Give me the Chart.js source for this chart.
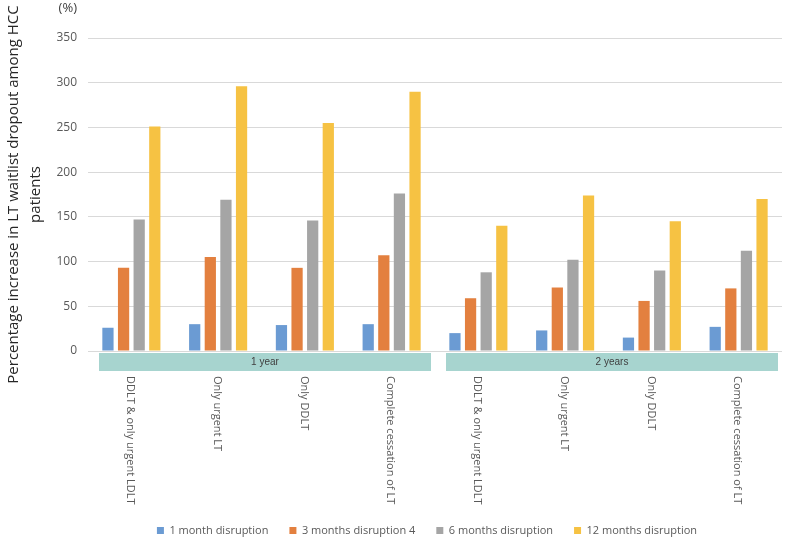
<!DOCTYPE html>
<html>
<head>
<meta charset="utf-8">
<script src="https://cdn.jsdelivr.net/npm/chart.js@4"></script>
<style>
  html, body { margin: 0; padding: 0; background: #fff; }
  #wrap { width: 785px; height: 540px; }
</style>
</head>
<body>
<div id="wrap"><canvas id="chart" width="785" height="540"></canvas></div>
<script>
// data
const categories = [
    'DDLT & only urgent LDLT', 'Only urgent LT', 'Only DDLT', 'Complete cessation of LT',
    'DDLT & only urgent LDLT', 'Only urgent LT', 'Only DDLT', 'Complete cessation of LT'
];
const periods = ['1 year', '2 years'];
const periodSize = 4;
const oneMonth = [26, 30, 29, 30, 20, 23, 15, 27];
const threeMonths = [93, 105, 93, 107, 59, 71, 56, 70];
const sixMonths = [147, 169, 146, 176, 88, 102, 90, 112];
const twelveMonths = [251, 296, 255, 290, 140, 174, 145, 170];
const seriesNames = ['1 month disruption', '3 months disruption 4', '6 months disruption', '12 months disruption'];
const seriesColors = ['#6b9bd3', '#e3803f', '#a5a5a5', '#f6c243'];
const yTicks = [0, 50, 100, 150, 200, 250, 300, 350];

const FONT = "'Open Sans', 'Noto Sans', sans-serif";
const PLOT_BOTTOM = 351;
const PAD_BOTTOM = -6;
const LEGEND_SHIFT = 36;

// bands under the axis with the period names, plus rotated category labels
const groupLabels = {
    id: 'groupLabels',
    afterUpdate(chart) {
        // legend sits centred under the plot, not the whole canvas
        if (chart.legend) {
            chart.legend.left += LEGEND_SHIFT;
            chart.legend.right += LEGEND_SHIFT;
        }
    },
    afterDraw(chart) {
        const ctx = chart.ctx;
        const x = chart.scales.x;
        const half = (x.getPixelForValue(1) - x.getPixelForValue(0)) / 2;
        const base = chart.chartArea.bottom;

        ctx.save();
        // (%) unit
        ctx.fillStyle = '#404040';
        ctx.font = '13px ' + FONT;
        ctx.textAlign = 'right';
        ctx.textBaseline = 'middle';
        ctx.fillText('(%)', 77, 8);

        periods.forEach((p, i) => {
            const first = i * periodSize;
            const last = first + periodSize - 1;
            const left = x.getPixelForValue(first) - half + 11;
            const right = x.getPixelForValue(last) + half - 4;
            ctx.fillStyle = '#a7d4cf';
            ctx.fillRect(left, base + 2, right - left, 18);
            ctx.fillStyle = '#404040';
            ctx.font = "10px 'Liberation Sans Narrow', 'Liberation Sans', sans-serif";
            ctx.textAlign = 'center';
            ctx.fillText(p, (left + right) / 2, base + 11.5);
        });

        ctx.fillStyle = '#595959';
        ctx.font = '11px ' + FONT;
        ctx.textAlign = 'left';
        categories.forEach((c, i) => {
            ctx.save();
            ctx.translate(x.getPixelForValue(i) - 1, base + 25);
            ctx.rotate(Math.PI / 2);
            ctx.fillText(c, 0, 0);
            ctx.restore();
        });
        ctx.restore();
    }
};

new Chart(document.getElementById('chart'), {
    type: 'bar',
    data: {
        labels: categories,
        datasets: [oneMonth, threeMonths, sixMonths, twelveMonths].map((d, i) => ({
            label: seriesNames[i],
            data: d,
            backgroundColor: seriesColors[i],
            categoryPercentage: 0.72,
            barPercentage: 0.72
        }))
    },
    options: {
        responsive: false,
        animation: false,
        devicePixelRatio: 1,
        layout: { padding: { top: 38, right: 3, left: 0, bottom: PAD_BOTTOM } },
        plugins: {
            tooltip: { enabled: false },
            legend: {
                position: 'bottom',
                labels: {
                    boxWidth: 7,
                    boxHeight: 7,
                    padding: 21,
                    color: '#595959',
                    font: { family: FONT, size: 11 }
                }
            }
        },
        scales: {
            x: {
                grid: { display: false },
                border: { display: false },
                ticks: { display: false },
                afterFit(scale) {
                    const lg = scale.chart.legend ? scale.chart.legend.height : 0;
                    scale.height = 540 - PLOT_BOTTOM - lg - PAD_BOTTOM;
                }
            },
            y: {
                min: 0,
                max: 350,
                afterBuildTicks(scale) {
                    scale.ticks = yTicks.map(v => ({ value: v }));
                },
                grid: { color: '#d9d9d9', lineWidth: 1, drawTicks: false },
                border: { display: false },
                ticks: {
                    padding: 11,
                    color: '#595959',
                    font: { family: FONT, size: 12 }
                },
                title: {
                    display: true,
                    text: ['Percentage increase in LT waitlist dropout among HCC', 'patients'],
                    color: '#262626',
                    font: { family: FONT, size: 15, lineHeight: 1.45 },
                    padding: { top: 3, bottom: 0 }
                },
                afterFit(scale) {
                    scale.width = 88;
                }
            }
        }
    },
    plugins: [groupLabels]
});
</script>
</body>
</html>
